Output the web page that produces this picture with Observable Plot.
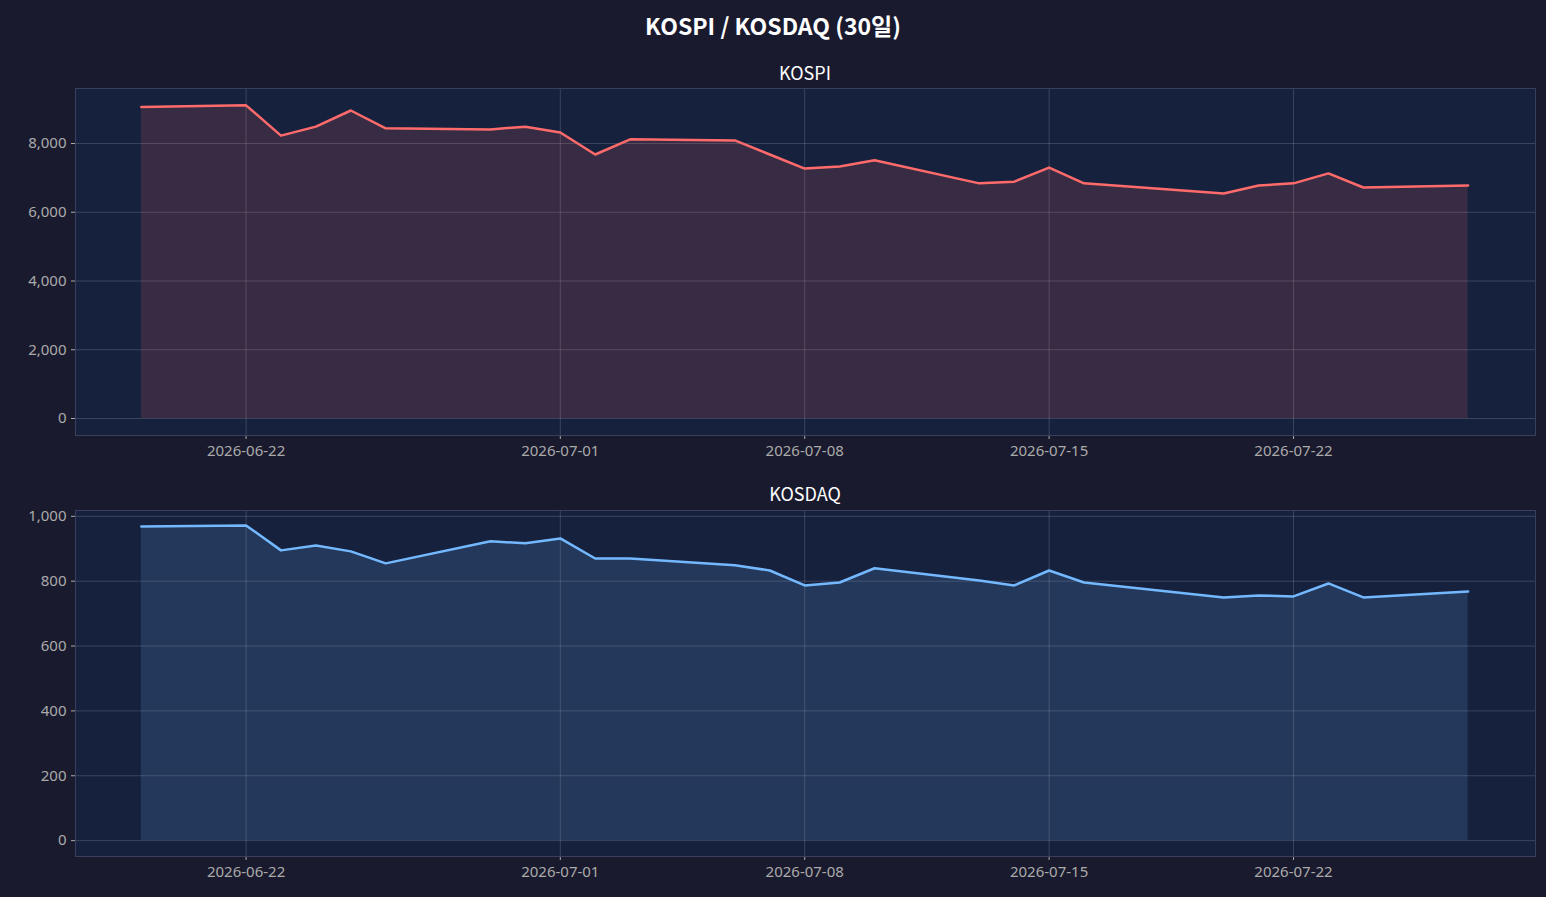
<!DOCTYPE html>
<html><head><meta charset="utf-8">
<script src="https://cdn.jsdelivr.net/npm/d3@7"></script>
<script src="https://cdn.jsdelivr.net/npm/@observablehq/plot@0.6"></script>
<style>
body{margin:0;background:#1a1a2e;width:1546px;height:897px;position:relative;overflow:hidden;font-family:"Noto Sans CJK KR","Noto Sans",sans-serif;color:#fff}
.t{position:absolute;left:0;width:1546px;text-align:center}
.c{position:absolute;left:0}
</style></head><body>
<div class="t" style="top:8px;font-size:23px;font-weight:bold">KOSPI / KOSDAQ (30일)</div>
<div class="t" style="top:59px;font-size:18px;left:32px">KOSPI</div>
<div id="c1" class="c" style="top:78px"></div>
<div class="t" style="top:480px;font-size:18px;left:32px">KOSDAQ</div>
<div id="c2" class="c" style="top:500px"></div>
<script>
const dates = ["2026-06-19","2026-06-22","2026-06-23","2026-06-24","2026-06-25","2026-06-26","2026-06-29","2026-06-30","2026-07-01","2026-07-02","2026-07-03","2026-07-06","2026-07-07","2026-07-08","2026-07-09","2026-07-10","2026-07-13","2026-07-14","2026-07-15","2026-07-16","2026-07-20","2026-07-21","2026-07-22","2026-07-23","2026-07-24","2026-07-27"];
const kospi = [9060,9110,8230,8490,8960,8440,8410,8490,8320,7680,8120,8090,7680,7270,7330,7510,6840,6890,7300,6840,6545,6780,6840,7130,6720,6780];
const kosdaq = [969,972,895,910,892,855,923,917,932,870,870,849,833,787,796,840,802,787,833,796,750,756,753,793,750,768];
const xTicks = ["2026-06-22","2026-07-01","2026-07-08","2026-07-15","2026-07-22"];
const xDomain = [new Date("2026-06-17T02:45:00Z"), new Date("2026-07-28T22:20:00Z")];
function draw(el, vals, yDomain, yTicks, line, fill, h){
  const data = dates.map((d,i)=>({date:new Date(d+"T00:00:00Z"), v:vals[i]}));
  const grid = "rgba(255,255,255,0.16)";
  const p = Plot.plot({
    width:1546, height:h+44, marginLeft:75, marginRight:11, marginTop:10, marginBottom:34,
    style:{background:"transparent",color:"#aaaaaa",fontSize:"15px",fontFamily:"'Noto Sans',sans-serif",overflow:"visible"},
    x:{type:"utc",domain:xDomain,ticks:xTicks.map(d=>new Date(d+"T00:00:00Z")),tickFormat:d3.utcFormat("%Y-%m-%d"),label:null,tickSize:4,tickPadding:6},
    y:{domain:yDomain,ticks:yTicks,tickFormat:d3.format(","),label:null,tickSize:4},
    marks:[
      Plot.frame({fill:"#16213e",stroke:"#3a3f5c"}),
      Plot.gridX(xTicks.map(d=>new Date(d+"T00:00:00Z")),{stroke:grid,strokeOpacity:1}),
      Plot.gridY(yTicks,{stroke:grid,strokeOpacity:1}),
      Plot.areaY(data,{x:"date",y:"v",fill:fill,fillOpacity:0.15}),
      Plot.lineY(data,{x:"date",y:"v",stroke:line,strokeWidth:2.5}),
      Plot.frame({stroke:"#3a3f5c"})
    ]
  });
  document.getElementById(el).appendChild(p);
}
draw("c1", kospi, [-495,9600], [0,2000,4000,6000,8000], "#ff6b6b", "#ff6b6b", 347);
draw("c2", kosdaq, [-49,1018], [0,200,400,600,800,1000], "#74b9ff", "#74b9ff", 346);
</script></body></html>
